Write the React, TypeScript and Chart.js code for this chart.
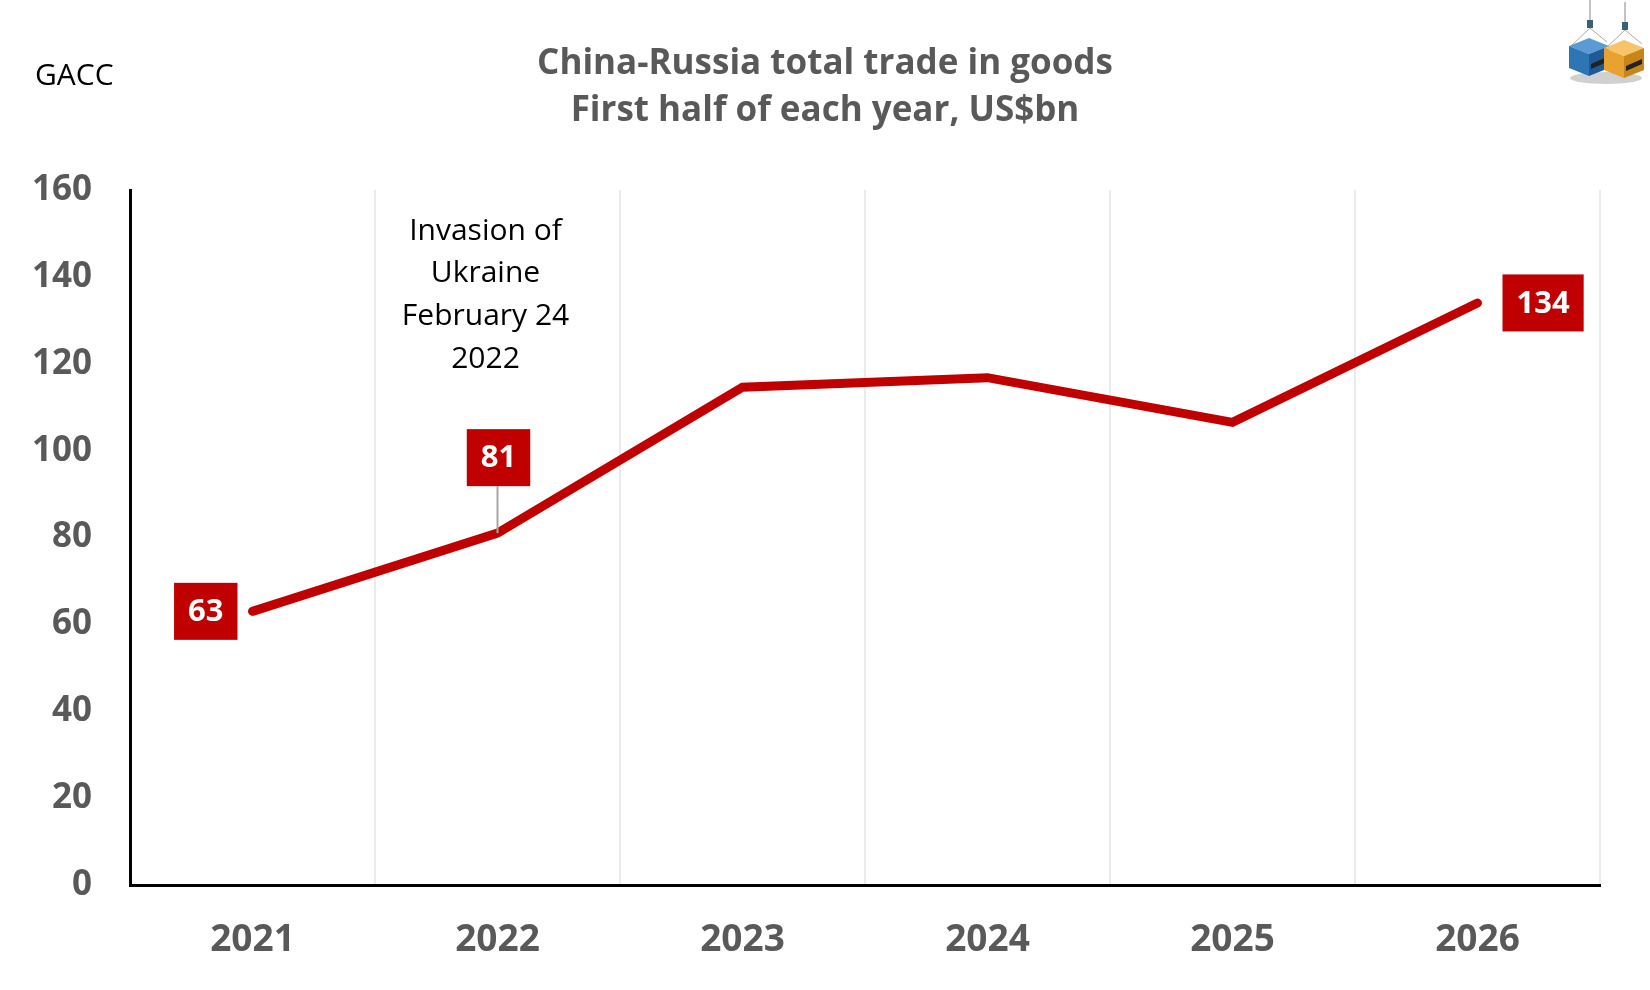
import { useEffect, useRef } from 'react';
import { Chart, registerables } from 'chart.js';

Chart.register(...registerables);

const years = ['2021', '2022', '2023', '2024', '2025', '2026'];
const tradeValues = [63, 81, 114.6, 116.8, 106.5, 134];
const valueLabels = ['63', '81', '', '', '', '134'];
const labelPlacement = ['left', 'above', '', '', '', 'right'];
const titleLines = ['China-Russia total trade in goods', 'First half of each year, US$bn'];
const sourceText = 'GACC';
const annotationLines = ['Invasion of', 'Ukraine', 'February 24', '2022'];
const annotationIndex = 1;
const yMin = 0;
const yMax = 160;
const yStep = 20;

const FONT = '"Open Sans", "Noto Sans", "DejaVu Sans", sans-serif';
const RED = '#C00000';
const GREY_TEXT = '#595959';

function drawBox(ctx: CanvasRenderingContext2D, cx: number, cy: number, text: string) {
  ctx.font = `bold 31px ${FONT}`;
  const w = ctx.measureText(text).width + 28;
  const h = 57;
  ctx.fillStyle = RED;
  ctx.fillRect(cx - w / 2, cy - h / 2, w, h);
  ctx.fillStyle = '#FFFFFF';
  ctx.textAlign = 'center';
  ctx.textBaseline = 'middle';
  ctx.fillText(text, cx, cy + 1);
  return w;
}

function drawLogo(ctx: CanvasRenderingContext2D) {
  ctx.save();
  // shadow
  ctx.fillStyle = 'rgba(150,150,150,0.45)';
  ctx.beginPath();
  ctx.ellipse(1606, 78, 36, 6, 0, 0, Math.PI * 2);
  ctx.fill();
  const boxes = [
    { x: 1569, y: 36, top: '#5B9BD5', left: '#2E75B6', right: '#1F5A96' },
    { x: 1604, y: 38, top: '#F7C46A', left: '#E8A230', right: '#C98618' },
  ];
  boxes.forEach((b) => {
    ctx.strokeStyle = '#888';
    ctx.lineWidth = 1;
    ctx.beginPath();
    ctx.moveTo(b.x + 21, b.y - 36);
    ctx.lineTo(b.x + 21, b.y - 10);
    ctx.stroke();
    ctx.fillStyle = '#3b5f74';
    ctx.fillRect(b.x + 18, b.y - 16, 6, 8);
    ctx.beginPath();
    ctx.moveTo(b.x + 21, b.y - 8);
    ctx.lineTo(b.x + 2, b.y + 10);
    ctx.moveTo(b.x + 21, b.y - 8);
    ctx.lineTo(b.x + 38, b.y + 6);
    ctx.strokeStyle = '#aaa';
    ctx.stroke();
    ctx.fillStyle = b.top;
    ctx.beginPath();
    ctx.moveTo(b.x, b.y + 10);
    ctx.lineTo(b.x + 20, b.y + 2);
    ctx.lineTo(b.x + 40, b.y + 10);
    ctx.lineTo(b.x + 20, b.y + 18);
    ctx.closePath();
    ctx.fill();
    ctx.fillStyle = b.left;
    ctx.beginPath();
    ctx.moveTo(b.x, b.y + 10);
    ctx.lineTo(b.x + 20, b.y + 18);
    ctx.lineTo(b.x + 20, b.y + 40);
    ctx.lineTo(b.x, b.y + 32);
    ctx.closePath();
    ctx.fill();
    ctx.fillStyle = b.right;
    ctx.beginPath();
    ctx.moveTo(b.x + 20, b.y + 18);
    ctx.lineTo(b.x + 40, b.y + 10);
    ctx.lineTo(b.x + 40, b.y + 32);
    ctx.lineTo(b.x + 20, b.y + 40);
    ctx.closePath();
    ctx.fill();
    ctx.fillStyle = '#222';
    ctx.beginPath();
    ctx.moveTo(b.x + 22, b.y + 28);
    ctx.lineTo(b.x + 38, b.y + 21);
    ctx.lineTo(b.x + 38, b.y + 26);
    ctx.lineTo(b.x + 22, b.y + 33);
    ctx.closePath();
    ctx.fill();
  });
  ctx.restore();
}

const overlayPlugin = {
  id: 'overlay',
  afterDraw(chart: any) {
    const ctx: CanvasRenderingContext2D = chart.ctx;
    const { chartArea } = chart;
    ctx.save();
    // titles
    ctx.fillStyle = GREY_TEXT;
    ctx.textAlign = 'center';
    ctx.textBaseline = 'middle';
    ctx.font = `bold 35px ${FONT}`;
    ctx.fillText(titleLines[0], chart.width / 2, 64);
    ctx.fillText(titleLines[1], chart.width / 2, 111);
    // source
    ctx.fillStyle = '#000000';
    ctx.textAlign = 'left';
    ctx.font = `30px ${FONT}`;
    ctx.fillText(sourceText, 35, 76);
    // annotation
    const xs = chart.scales.x;
    const ax = xs.getPixelForValue(annotationIndex) - 12;
    ctx.fillStyle = '#000000';
    ctx.textAlign = 'center';
    ctx.font = `30px ${FONT}`;
    annotationLines.forEach((line, i) => {
      ctx.fillText(line, ax, chartArea.top + 41 + i * 42.8);
    });
    // data labels
    const meta = chart.getDatasetMeta(0);
    meta.data.forEach((pt: any, i: number) => {
      const text = valueLabels[i];
      if (!text) return;
      const place = labelPlacement[i];
      ctx.font = `bold 31px ${FONT}`;
      const w = ctx.measureText(text).width + 28;
      if (place === 'left') {
        drawBox(ctx, pt.x - 15 - w / 2, pt.y, text);
      } else if (place === 'right') {
        drawBox(ctx, pt.x + 25 + w / 2, pt.y, text);
      } else if (place === 'above') {
        const bottom = pt.y - 47;
        ctx.strokeStyle = '#A6A6A6';
        ctx.lineWidth = 2;
        ctx.beginPath();
        ctx.moveTo(pt.x, bottom);
        ctx.lineTo(pt.x, pt.y);
        ctx.stroke();
        drawBox(ctx, pt.x + 1, bottom - 28.5, text);
      }
    });
    drawLogo(ctx);
    ctx.restore();
  },
};

export default function App() {
  const ref = useRef<HTMLCanvasElement | null>(null);
  useEffect(() => {
    document.body.style.margin = '0';
    const canvas = ref.current;
    if (!canvas) return;
    const chart = new Chart(canvas, {
      type: 'line',
      data: {
        labels: years,
        datasets: [
          {
            data: tradeValues,
            borderColor: RED,
            backgroundColor: RED,
            borderWidth: 9,
            borderCapStyle: 'round',
            borderJoinStyle: 'miter',
            pointRadius: 0,
            pointHoverRadius: 0,
            tension: 0,
            fill: false,
          },
        ],
      },
      options: {
        animation: false,
        responsive: false,
        devicePixelRatio: 1,
        events: [],
        layout: { padding: { top: 190, right: 50, left: 0, bottom: 0 } },
        plugins: {
          legend: { display: false },
          title: { display: false },
          tooltip: { enabled: false },
        },
        scales: {
          x: {
            type: 'category',
            offset: true,
            grid: {
              display: true,
              offset: true,
              color: '#EBEBEB',
              lineWidth: 2,
              drawTicks: false,
            },
            border: { display: true, color: '#000000', width: 3 },
            ticks: {
              color: GREY_TEXT,
              font: { family: FONT, size: 37, weight: 'bold' },
              padding: 33,
              maxRotation: 0,
            },
            afterFit: (scale: any) => {
              scale.height = 105;
            },
          },
          y: {
            min: yMin,
            max: yMax,
            grid: { display: false, drawTicks: false },
            border: { display: true, color: '#000000', width: 3 },
            ticks: {
              stepSize: yStep,
              color: GREY_TEXT,
              font: { family: FONT, size: 35, weight: 'bold' },
              padding: 38,
            },
            afterFit: (scale: any) => {
              scale.width = 130;
            },
          },
        },
      },
      plugins: [overlayPlugin],
    });
    return () => chart.destroy();
  }, []);
  return (
    <div style={{ width: 1650, height: 990, background: '#fff' }}>
      <canvas ref={ref} width={1650} height={990} style={{ display: 'block' }} />
    </div>
  );
}
